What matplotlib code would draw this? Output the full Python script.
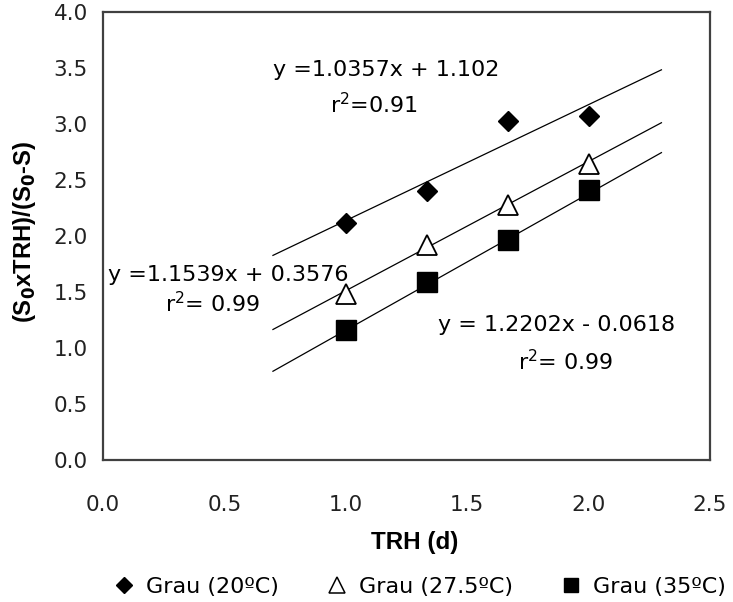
import numpy as np
import matplotlib
matplotlib.use('Agg')
import matplotlib.pyplot as plt
from matplotlib.lines import Line2D

# ---------------------------------------------------------#
# Data                        #
# ---------------------------------------------------------#
trh = np.array([1.0, 1.333, 1.667, 2.0])                  # TRH (d)

y_20  = np.array([2.12, 2.40, 3.03, 3.07])                # Grau (20ºC)
y_275 = np.array([1.48, 1.92, 2.28, 2.64])                # Grau (27.5ºC)
y_35  = np.array([1.16, 1.59, 1.96, 2.41])                # Grau (35ºC)

# trend line coefficients (slope, intercept) as printed on the chart
fit_20  = (1.0357, 1.102)
fit_275 = (1.1539, 0.3576)
fit_35  = (1.2202, -0.0618)
trend_range = (0.7, 2.3)

labels = ['Grau (20ºC)', 'Grau (27.5ºC)', 'Grau (35ºC)']
eq_texts = ['y =1.0357x + 1.102', 'y =1.1539x + 0.3576', 'y = 1.2202x - 0.0618']
r2_texts = [r'r$^2$=0.91', r'r$^2$= 0.99', r'r$^2$= 0.99']

xticks = [0.0, 0.5, 1.0, 1.5, 2.0, 2.5]
yticks = [0.0, 0.5, 1.0, 1.5, 2.0, 2.5, 3.0, 3.5, 4.0]

# ---------------------------------------------------------#
# Style                                                    #
# ---------------------------------------------------------#
plt.rcParams['font.family'] = ['DejaVu Sans']
plt.rcParams['mathtext.fontset'] = 'dejavusans'

tick_size   = 15.5
text_size   = 16
label_font  = ['Liberation Sans', 'DejaVu Sans']
frame_color = '#404040'

fig = plt.figure(figsize=(7.33, 6.02), dpi=100)
ax  = fig.add_axes([0.1405, 0.2359, 0.8281, 0.7441])

# ---------------------------------------------------------#
# Trend lines and points                                   #
# ---------------------------------------------------------#
xt = np.array(trend_range)
for slope, icpt in (fit_20, fit_275, fit_35):
    ax.plot(xt, slope * xt + icpt, color='black', lw=0.9, zorder=2)

ax.plot(trh, y_20, linestyle='none', marker='D', ms=10.5,
        mfc='black', mec='black', zorder=3)
ax.plot(trh, y_275, linestyle='none', marker='^', ms=15,
        mfc='white', mec='black', mew=1.3, zorder=3)
ax.plot(trh, y_35, linestyle='none', marker='s', ms=14.5,
        mfc='black', mec='black', zorder=3)

# ---------------------------------------------------------#
# Equation labels                                          #
# ---------------------------------------------------------#
ax.text(0.70, 3.48, eq_texts[0], fontsize=text_size, ha='left', va='center')
ax.text(0.934, 3.17, r2_texts[0], fontsize=text_size, ha='left', va='center')
ax.text(0.02, 1.65, eq_texts[1], fontsize=text_size, ha='left', va='center')
ax.text(0.255, 1.40, r2_texts[1], fontsize=text_size, ha='left', va='center')
ax.text(1.379, 1.205, eq_texts[2], fontsize=text_size, ha='left', va='center')
ax.text(1.708, 0.875, r2_texts[2], fontsize=text_size, ha='left', va='center')

# ---------------------------------------------------------#
# Axes                                                     #
# ---------------------------------------------------------#
ax.set_xlim(0, 2.5)
ax.set_ylim(0, 4.0)
ax.set_xticks(xticks)
ax.set_yticks(yticks)
ax.set_xticklabels(['%.1f' % v for v in xticks])
ax.set_yticklabels(['%.1f' % v for v in yticks])
ax.tick_params(length=0, labelsize=tick_size, colors='#222222')
ax.tick_params(axis='x', pad=25)
ax.tick_params(axis='y', pad=11)
for sp in ax.spines.values():
    sp.set_color(frame_color)
    sp.set_linewidth(1.6)

ax.set_xlabel('TRH (d)', fontsize=17.5, fontweight='bold', family=label_font)
ax.xaxis.set_label_coords(0.513, -0.158)
ax.set_ylabel(r'(S$_\mathbf{0}$xTRH)/(S$_\mathbf{0}$-S)', fontsize=17.2,
              fontweight='bold', family=label_font)
ax.yaxis.set_label_coords(-0.107, 0.509)

# ---------------------------------------------------------#
# Legend below the plot                                    #
# ---------------------------------------------------------#
handles = [
    Line2D([], [], linestyle='none', marker='D', ms=8, mfc='black', mec='black'),
    Line2D([], [], linestyle='none', marker='^', ms=11, mfc='white', mec='black', mew=1.1),
    Line2D([], [], linestyle='none', marker='s', ms=10, mfc='black', mec='black'),
]
fig.legend(handles, labels, loc='center', bbox_to_anchor=(0.574, 0.0245),
           ncol=3, frameon=False, fontsize=text_size, handlelength=0.8,
           handletextpad=0.6, columnspacing=2.2)

fig.savefig('out.png', dpi=100)
